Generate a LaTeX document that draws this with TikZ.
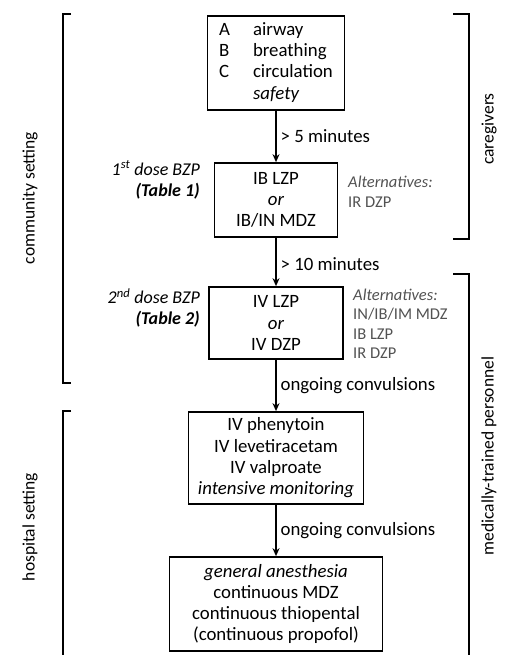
\documentclass[tikz,border=0pt]{standalone}
\usepackage{fontspec}
\setmainfont{Carlito}
\usetikzlibrary{arrows.meta}

\tikzset{
  stepbox/.style={draw, line width=1.7pt, align=center, inner sep=0pt,
    font=\fontsize{18.8}{21.3}\selectfont},
  flow/.style={-{Stealth[length=8pt,width=7pt]}, line width=1.4pt},
  cond/.style={right, inner sep=4pt, font=\fontsize{18.8}{21}\selectfont},
  sidelbl/.style={rotate=90, font=\fontsize{17.5}{20}\selectfont},
  alttext/.style={anchor=west, align=left, text=black!68, inner sep=0pt,
    font=\fontsize{16.5}{19.5}\selectfont},
  dosetext/.style={anchor=east, align=right, inner sep=0pt,
    font=\fontsize{18}{21.5}\selectfont\itshape},
  bracket/.style={line width=1.3pt}
}

\begin{document}
\begin{tikzpicture}[x=1pt, y=-1pt]
\useasboundingbox (0,0) rectangle (506,655);

% the steps
\node[stepbox, minimum width=137pt, minimum height=94pt] (abc) at (276,63)
  {\begin{tabular}{@{}l@{\hspace{23pt}}l@{}}
   A & airway\\ B & breathing\\ C & circulation\\ & \textit{safety}
   \end{tabular}};
\node[stepbox, minimum width=123pt, minimum height=74pt] (first) at (276,200)
  {IB LZP\\ \textit{or}\\ IB/IN MDZ};
\node[stepbox, minimum width=134pt, minimum height=72pt] (second) at (276,323)
  {IV LZP\\ \textit{or}\\ IV DZP};
\node[stepbox, minimum width=175pt, minimum height=92pt] (third) at (276,458)
  {IV phenytoin\\ IV levetiracetam\\ IV valproate\\ \textit{intensive monitoring}};
\node[stepbox, minimum width=213pt, minimum height=94pt] (anesth) at (276,604)
  {\textit{general anesthesia}\\ continuous MDZ\\ continuous thiopental\\ (continuous propofol)};

\draw[flow] (abc) -- node[cond] {> 5 minutes} (first);
\draw[flow] (first) -- node[cond, yshift=-2pt] {> 10 minutes} (second);
\draw[flow] (second) -- node[cond] {ongoing convulsions} (third);
\draw[flow] (third) -- node[cond] {ongoing convulsions} (anesth);

% doses and alternatives
\node[dosetext] (dose1) at (200,180) {1\textsuperscript{st} dose BZP\\ \textbf{(Table 1)}};
\node[dosetext] (dose2) at (200,308) {2\textsuperscript{nd} dose BZP\\ \textbf{(Table 2)}};
\node[alttext] (alt1) at (348,192) {\textit{Alternatives:}\\ IR DZP};
\node[alttext] (alt2) at (353,324) {\textit{Alternatives:}\\ IN/IB/IM MDZ\\ IB LZP\\ IR DZP};

% brackets
\draw[bracket] (71,14) -- (63,14) -- (63,383) -- (71,383);
\draw[bracket] (71,411) -- (63,411) -- (63,660);
\draw[bracket] (453,14) -- (469,14) -- (469,239) -- (453,239);
\draw[bracket] (453,274) -- (469,274) -- (469,660);

\node[sidelbl] (community) at (30,198) {community setting};
\node[sidelbl] (hospital) at (30,527) {hospital setting};
\node[sidelbl] (caregivers) at (489,129) {caregivers};
\node[sidelbl] (medical) at (489,456) {medically-trained personnel};
\end{tikzpicture}
\end{document}
